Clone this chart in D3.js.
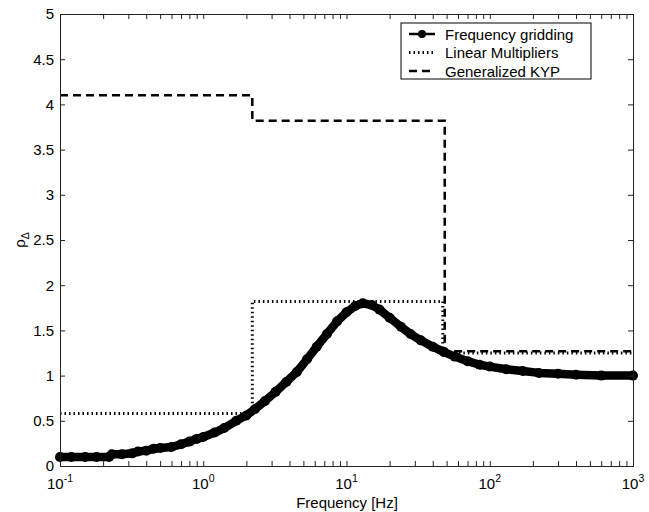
<!DOCTYPE html>
<html>
<head>
<meta charset="utf-8">
<script src="https://cdn.jsdelivr.net/npm/d3@7"></script>
<style>
	body { margin: 0; background: #fff; }
	svg { display: block; font-family: "Liberation Sans", Arial, sans-serif; }
	.axis path, .axis line { stroke: #222; stroke-width: 1; }
</style>
</head>
<body>
<div id="chart"></div>
<script>
// frequency gridding curve (Hz, rho)
var gridFreq = [0.1, 0.12, 0.15, 0.18, 0.22, 0.23, 0.27, 0.32, 0.35, 0.4, 0.45, 0.5, 0.6, 0.7, 0.8, 0.9,
	1.0, 1.2, 1.4, 1.7, 2.0, 2.3, 2.7, 3.2, 3.8, 4.5, 5.3, 6.2, 7.3, 8.6, 10, 11.5, 13, 15, 17, 20,
	24, 28, 33, 40, 48, 57, 70, 85, 100, 130, 170, 220, 300, 400, 600, 1000];
var gridRho = [0.10, 0.10, 0.10, 0.10, 0.10, 0.13, 0.13, 0.14, 0.16, 0.17, 0.19, 0.20, 0.21, 0.24, 0.27, 0.30,
	0.32, 0.37, 0.42, 0.50, 0.56, 0.63, 0.72, 0.82, 0.93, 1.04, 1.18, 1.32, 1.46, 1.60, 1.70, 1.77, 1.80, 1.78, 1.73, 1.64,
	1.54, 1.46, 1.39, 1.32, 1.26, 1.21, 1.16, 1.12, 1.10, 1.07, 1.05, 1.03, 1.02, 1.01, 1.00, 1.00];

// piecewise constant bounds: breakpoints and levels
var lmFreq = [0.1, 2.2, 47, 1000];
var lmRho = [0.58, 1.82, 1.25];
var kypFreq = [0.1, 2.2, 48.5, 1000];
var kypRho = [4.10, 3.82, 1.27];

var yTicks = [0, 0.5, 1, 1.5, 2, 2.5, 3, 3.5, 4, 4.5, 5];
var xExponents = [-1, 0, 1, 2, 3];
var legendLabels = ['Frequency gridding', 'Linear Multipliers', 'Generalized KYP'];

var fullWidth = 649, fullHeight = 512;
var plotLeft = 60, plotRight = 633, plotTop = 14, plotBottom = 466;
var fontSize = 15;

var svg = d3.select('#chart').append('svg')
	.attr('width', fullWidth)
	.attr('height', fullHeight);

var x = d3.scaleLog().domain([0.1, 1000]).range([plotLeft, plotRight]);
var y = d3.scaleLinear().domain([0, 5]).range([plotBottom, plotTop]);

function steps(freqs, vals) {
	var pts = [];
	vals.forEach(function(v, i) {
		pts.push([freqs[i], v]);
		pts.push([freqs[i + 1], v]);
	});
	return pts;
}

var stepLine = d3.line()
	.x(function(d) { return x(d[0]); })
	.y(function(d) { return y(d[1]); });

// linear multipliers (dotted)
svg.append('path')
	.datum(steps(lmFreq, lmRho))
	.attr('fill', 'none')
	.attr('stroke', '#000')
	.attr('stroke-width', 3)
	.attr('stroke-dasharray', '1.5,3')
	.attr('d', stepLine);

// generalized KYP (dashed)
svg.append('path')
	.datum(steps(kypFreq, kypRho))
	.attr('fill', 'none')
	.attr('stroke', '#000')
	.attr('stroke-width', 2.5)
	.attr('stroke-dasharray', '8,5')
	.attr('d', stepLine);

// frequency gridding
var grid = gridFreq.map(function(f, i) { return [f, gridRho[i]]; });
svg.append('path')
	.datum(grid)
	.attr('fill', 'none')
	.attr('stroke', '#000')
	.attr('stroke-width', 8.5)
	.attr('stroke-linecap', 'round')
	.attr('stroke-linejoin', 'round')
	.attr('d', stepLine);
svg.append('g').selectAll('circle')
	.data(grid)
	.enter().append('circle')
	.attr('cx', function(d) { return x(d[0]); })
	.attr('cy', function(d) { return y(d[1]); })
	.attr('r', 5)
	.attr('fill', '#000');

// axes, ticks pointing inward on all four sides
var xMinor = x.ticks();
svg.append('g')
	.attr('class', 'axis')
	.attr('transform', 'translate(0,' + plotBottom + ')')
	.call(d3.axisBottom(x).tickValues(xMinor).tickSize(-5).tickFormat(''));
svg.append('g')
	.attr('class', 'axis')
	.attr('transform', 'translate(0,' + plotTop + ')')
	.call(d3.axisTop(x).tickValues(xMinor).tickSize(-5).tickFormat(''));
svg.append('g')
	.attr('class', 'axis')
	.attr('transform', 'translate(' + plotLeft + ',0)')
	.call(d3.axisLeft(y).tickValues(yTicks).tickSize(-5).tickPadding(6).tickFormat(function(d) { return d; }))
	.selectAll('text')
	.attr('font-size', fontSize)
	.attr('font-family', '"Liberation Sans", Arial, sans-serif')
	.attr('fill', '#000');
svg.append('g')
	.attr('class', 'axis')
	.attr('transform', 'translate(' + plotRight + ',0)')
	.call(d3.axisRight(y).tickValues(yTicks).tickSize(-5).tickFormat(''));

// x tick labels 10^n
var xLab = svg.append('g').selectAll('text')
	.data(xExponents)
	.enter().append('text')
	.attr('x', function(d) { return x(Math.pow(10, d)); })
	.attr('y', 489)
	.attr('text-anchor', 'middle')
	.attr('font-size', fontSize)
	.attr('fill', '#000');
xLab.append('tspan').text('10');
xLab.append('tspan')
	.attr('dy', -7)
	.attr('font-size', 10.5)
	.text(function(d) { return d; });

svg.append('text')
	.attr('x', 347)
	.attr('y', 508)
	.attr('text-anchor', 'middle')
	.attr('font-size', fontSize)
	.text('Frequency [Hz]');

var yLab = svg.append('text')
	.attr('transform', 'translate(25,' + y(2.5) + ') rotate(-90)')
	.attr('text-anchor', 'middle')
	.attr('font-size', fontSize);
yLab.append('tspan').text('ρ');
yLab.append('tspan').attr('dy', 4).attr('font-size', 10.5).text('Δ');

// legend
var lg = svg.append('g').attr('transform', 'translate(401,23)');
lg.append('rect')
	.attr('width', 190)
	.attr('height', 56)
	.attr('fill', '#fff')
	.attr('stroke', '#000')
	.attr('stroke-width', 1);
var rows = lg.selectAll('g.row')
	.data(legendLabels)
	.enter().append('g')
	.attr('class', 'row')
	.attr('transform', function(d, i) { return 'translate(0,' + (11 + i * 18.5) + ')'; });
rows.append('line')
	.attr('x1', 8).attr('x2', 34)
	.attr('stroke', '#000')
	.attr('stroke-width', function(d, i) { return i === 1 ? 3 : 2.5; })
	.attr('stroke-dasharray', function(d, i) { return i === 0 ? null : (i === 1 ? '1.5,3' : '8,5'); });
lg.append('circle').attr('cx', 21).attr('cy', 11).attr('r', 4).attr('fill', '#000');
rows.append('text')
	.attr('x', 44)
	.attr('y', 5.5)
	.attr('font-size', fontSize)
	.text(function(d) { return d; });
</script>
</body>
</html>
